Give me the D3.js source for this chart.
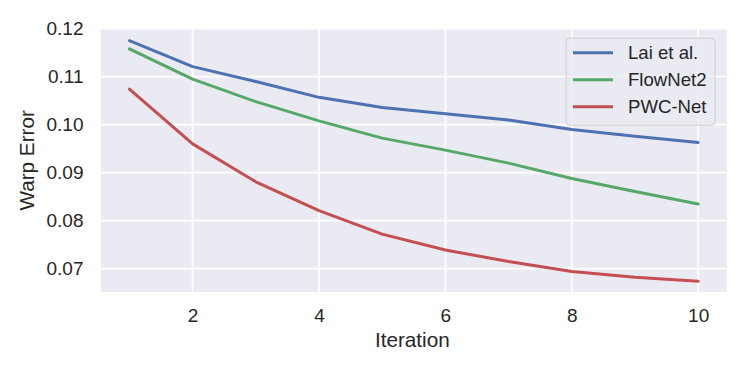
<!DOCTYPE html>
<html>
<head>
<meta charset="utf-8">
<script src="https://cdn.jsdelivr.net/npm/d3@7"></script>
<style>
  body { margin: 0; background: #fff; }
  svg { display: block; font-family: "Liberation Sans", Arial, sans-serif; }
</style>
</head>
<body>
<svg id="chart"></svg>
<script>
// Data
const iterations = [1, 2, 3, 4, 5, 6, 7, 8, 9, 10];
const laiEtAl   = [0.1175, 0.1121, 0.1090, 0.1057, 0.1036, 0.1023, 0.1010, 0.0990, 0.0976, 0.0963];
const flowNet2  = [0.1158, 0.1095, 0.1048, 0.1008, 0.0972, 0.0947, 0.0920, 0.0888, 0.0861, 0.0835];
const pwcNet    = [0.1074, 0.0960, 0.0881, 0.0821, 0.0772, 0.0739, 0.0715, 0.0694, 0.0682, 0.0674];
const seriesNames = ["Lai et al.", "FlowNet2", "PWC-Net"];
const xTicks = [2, 4, 6, 8, 10];
const yTicks = [0.07, 0.08, 0.09, 0.10, 0.11, 0.12];

const colors = ["#4c72b0", "#55a868", "#c44e52"];
const series = [laiEtAl, flowNet2, pwcNet].map((vals, i) => ({
    name: seriesNames[i],
    color: colors[i],
    points: vals.map((v, j) => ({ x: iterations[j], y: v }))
}));

// Configuration
const W = 747, H = 374;
const margin = { top: 28.7, right: 20.4, bottom: 82, left: 101 };
const width  = W - margin.left - margin.right;
const height = H - margin.top  - margin.bottom;
const tickSize  = 19;
const labelSize = 20.7;
const legendSize = 18.6;
const textColor = "#262626";

const svgRoot = d3.select("#chart").attr("width", W).attr("height", H);
const svg = svgRoot.append("g")
    .attr("transform", `translate(${margin.left},${margin.top})`);

// Scales (matplotlib-style 5% margins)
const x = d3.scaleLinear().domain([0.55, 10.45]).range([0, width]);
const y = d3.scaleLinear().domain([0.06515, 0.12]).range([height, 0]);

// Background
svg.append("rect")
    .attr("width", width)
    .attr("height", height)
    .attr("fill", "#eaeaf2");

// Grid
svg.append("g").selectAll("line")
    .data(xTicks)
    .join("line")
    .attr("x1", d => x(d)).attr("x2", d => x(d))
    .attr("y1", 0).attr("y2", height)
    .attr("stroke", "#fff")
    .attr("stroke-width", 1.8);

svg.append("g").selectAll("line")
    .data(yTicks)
    .join("line")
    .attr("x1", 0).attr("x2", width)
    .attr("y1", d => y(d)).attr("y2", d => y(d))
    .attr("stroke", "#fff")
    .attr("stroke-width", 1.8);

// Axes
const xAxis = svg.append("g")
    .attr("transform", `translate(0,${height})`)
    .call(d3.axisBottom(x).tickValues(xTicks).tickSize(0).tickPadding(17));
const yAxis = svg.append("g")
    .call(d3.axisLeft(y).tickValues(yTicks).tickFormat(d3.format(".2f")).tickSize(0).tickPadding(17.5));

[xAxis, yAxis].forEach(g => {
    g.select(".domain").remove();
    g.selectAll("text")
        .attr("font-family", "Liberation Sans, Arial, sans-serif")
        .attr("font-size", tickSize)
        .attr("fill", textColor);
});

// Axis labels
svg.append("text")
    .attr("x", width / 2 - 1.5)
    .attr("y", height + 55)
    .attr("text-anchor", "middle")
    .attr("font-size", labelSize)
    .attr("fill", textColor)
    .text("Iteration");

svg.append("text")
    .attr("transform", "rotate(-90)")
    .attr("x", -height / 2)
    .attr("y", -67)
    .attr("text-anchor", "middle")
    .attr("font-size", labelSize)
    .attr("fill", textColor)
    .text("Warp Error");

// Lines
const line = d3.line().x(d => x(d.x)).y(d => y(d.y));

svg.append("g").selectAll("path")
    .data(series)
    .join("path")
    .attr("d", d => line(d.points))
    .attr("fill", "none")
    .attr("stroke", d => d.color)
    .attr("stroke-width", 3)
    .attr("stroke-linecap", "round")
    .attr("stroke-linejoin", "round");

// Legend
const legend = svg.append("g")
    .attr("transform", `translate(${width - 160.6},${9.5})`);

legend.append("rect")
    .attr("width", 149)
    .attr("height", 87)
    .attr("rx", 4)
    .attr("fill", "#eaeaf2")
    .attr("fill-opacity", 0.8)
    .attr("stroke", "#cccccc")
    .attr("stroke-width", 1);

const items = legend.selectAll(".item")
    .data(series)
    .join("g")
    .attr("class", "item")
    .attr("transform", (d, i) => `translate(0,${14.5 + i * 27})`);

items.append("line")
    .attr("x1", 7).attr("x2", 47)
    .attr("stroke", d => d.color)
    .attr("stroke-width", 3);

items.append("text")
    .attr("x", 62)
    .attr("dy", "0.35em")
    .attr("font-size", legendSize)
    .attr("fill", textColor)
    .text(d => d.name);
</script>
</body>
</html>
